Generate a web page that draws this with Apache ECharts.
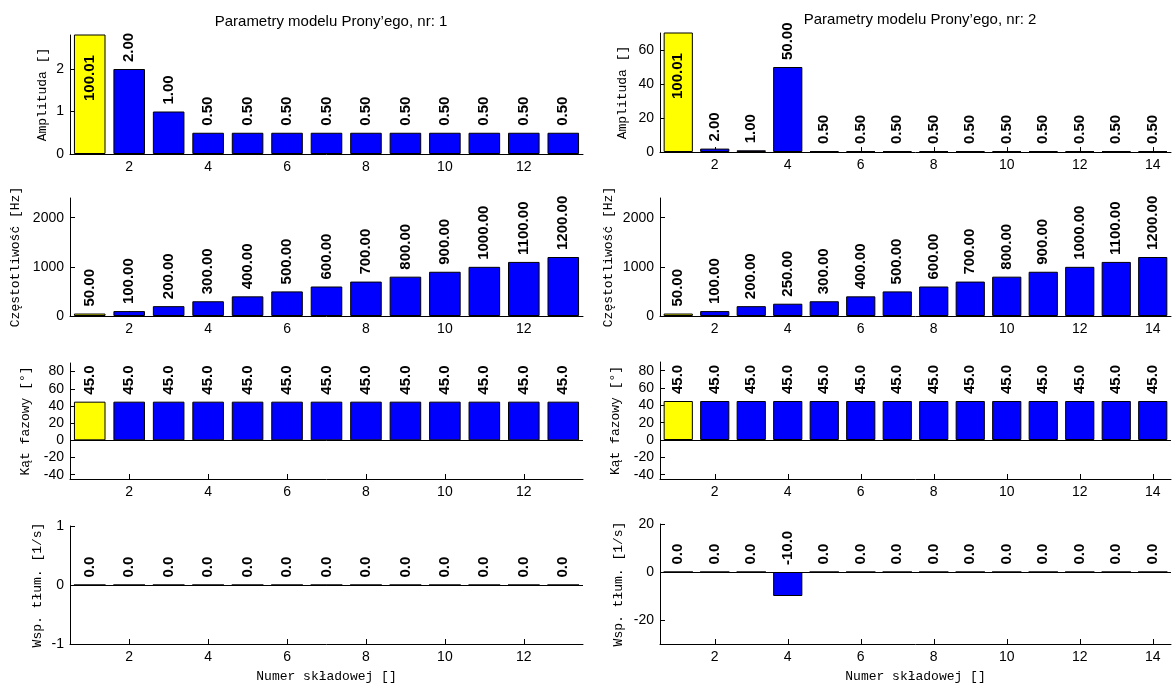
<!DOCTYPE html>
<html>
<head>
<meta charset="utf-8">
<script src="https://cdn.jsdelivr.net/npm/echarts@6/dist/echarts.min.js"></script>
<style>
html,body{margin:0;padding:0;background:#fff;}
#chart{width:1175px;height:687px;}
</style>
</head>
<body>
<div id="chart"></div>
<script>
// ---- data ----
const categoriesL = ['1','2','3','4','5','6','7','8','9','10','11','12','13'];
const categoriesR = ['1','2','3','4','5','6','7','8','9','10','11','12','13','14'];

const ampL   = [100.01, 2.00, 1.00, 0.50, 0.50, 0.50, 0.50, 0.50, 0.50, 0.50, 0.50, 0.50, 0.50];
const freqL  = [50, 100, 200, 300, 400, 500, 600, 700, 800, 900, 1000, 1100, 1200];
const phaseL = [45, 45, 45, 45, 45, 45, 45, 45, 45, 45, 45, 45, 45];
const dampL  = [0, 0, 0, 0, 0, 0, 0, 0, 0, 0, 0, 0, 0];

const ampR   = [100.01, 2.00, 1.00, 50.00, 0.50, 0.50, 0.50, 0.50, 0.50, 0.50, 0.50, 0.50, 0.50, 0.50];
const freqR  = [50, 100, 200, 250, 300, 400, 500, 600, 700, 800, 900, 1000, 1100, 1200];
const phaseR = [45, 45, 45, 45, 45, 45, 45, 45, 45, 45, 45, 45, 45, 45];
const dampR  = [0, 0, 0, -10, 0, 0, 0, 0, 0, 0, 0, 0, 0, 0];

const xTickLabels = ['2','4','6','8','10','12','14'];

const ampTicksL = [0, 1, 2];          const ampLimL = [0, 2.8];
const ampTicksR = [0, 20, 40, 60];    const ampLimR = [0, 70];
const freqTicks = [0, 1000, 2000];    const freqLim = [0, 2400];
const phaseTicks = [-40, -20, 0, 20, 40, 60, 80]; const phaseLim = [-45, 90];
const dampTicksL = [-1, 0, 1];        const dampLimL = [-1, 1];
const dampTicksR = [-20, 0, 20];      const dampLimR = [-30, 20];

const titles = ['Parametry modelu Prony\u2019ego, nr: 1', 'Parametry modelu Prony\u2019ego, nr: 2'];
const yNames = ['Amplituda []', 'Częstotliwość [Hz]', 'Kąt fazowy [°]', 'Wsp. tłum. [1/s]'];
const xName = 'Numer składowej []';

// ---- layout ----
const colL = {left: 70, width: 513};
const colR = {left: 660, width: 511};
const rowsL = [[35,154],[198,316],[363,479],[526,644]];
const rowsR = [[33,152],[198,316],[362,479],[524,644]];
const nameGapL = [21, 48, 38, 26];
const nameGapR = [31, 45, 38, 35];

const YELLOW = '#FFFF00', BLUE = '#0000FF';
const tickFont = {color:'#000', fontFamily:'Liberation Sans, Arial, sans-serif', fontSize:14};
const monoFont = {color:'#000', fontFamily:'Liberation Mono, DejaVu Sans Mono, monospace', fontSize:13};

const panels = [
  {col:'L', row:0, cats:categoriesL, vals:ampL,   lim:ampLimL,  ticks:ampTicksL,  dec:2, clipFirst:true},
  {col:'L', row:1, cats:categoriesL, vals:freqL,  lim:freqLim,  ticks:freqTicks,  dec:2},
  {col:'L', row:2, cats:categoriesL, vals:phaseL, lim:phaseLim, ticks:phaseTicks, dec:1, zero:true},
  {col:'L', row:3, cats:categoriesL, vals:dampL,  lim:dampLimL, ticks:dampTicksL, dec:1, zero:true},
  {col:'R', row:0, cats:categoriesR, vals:ampR,   lim:ampLimR,  ticks:ampTicksR,  dec:2, clipFirst:true},
  {col:'R', row:1, cats:categoriesR, vals:freqR,  lim:freqLim,  ticks:freqTicks,  dec:2},
  {col:'R', row:2, cats:categoriesR, vals:phaseR, lim:phaseLim, ticks:phaseTicks, dec:1, zero:true},
  {col:'R', row:3, cats:categoriesR, vals:dampR,  lim:dampLimR, ticks:dampTicksR, dec:1, zero:true}
];

const grid = [], xAxis = [], yAxis = [], series = [];
const evenCat = (idx, val) => xTickLabels.indexOf(String(val)) >= 0;

panels.forEach((p, i) => {
  const col = p.col === 'L' ? colL : colR;
  const r = (p.col === 'L' ? rowsL : rowsR)[p.row];
  const gap = (p.col === 'L' ? nameGapL : nameGapR)[p.row];
  grid.push({left: col.left, top: r[0], width: col.width, height: r[1]-r[0], containLabel:false, outerBoundsMode:'none'});
  xAxis.push({
    type:'category', gridIndex:i, data:p.cats, boundaryGap:true,
    axisLine:{show:true, onZero:false, lineStyle:{color:'#000', width:1}},
    axisTick:{show:true, inside:true, length:5, alignWithLabel:true, interval: evenCat, lineStyle:{color:'#000'}},
    axisLabel:Object.assign({interval: evenCat, margin:6}, tickFont),
    splitLine:{show:false},
    name: p.row === 3 ? xName : '', nameLocation:'middle', nameGap:26,
    nameTextStyle: monoFont
  });
  yAxis.push({
    type:'value', gridIndex:i, min:p.lim[0], max:p.lim[1],
    axisLine:{show:true, onZero:false, lineStyle:{color:'#000', width:1}},
    axisTick:{show:true, inside:true, length:5, customValues:p.ticks, lineStyle:{color:'#000'}},
    axisLabel:Object.assign({customValues:p.ticks, margin:6, formatter:(v) => String(v)}, tickFont),
    splitLine:{show:false},
    name: yNames[p.row], nameLocation:'middle', nameGap:gap, nameRotate:90,
    nameTextStyle: monoFont
  });
  const data = p.vals.map((v, k) => {
    if (p.clipFirst && k === 0) {
      return {value:v, label:{position:'insideBottom', distance:53}};
    }
    return v;
  });
  const s = {
    type:'bar', xAxisIndex:i, yAxisIndex:i, data:data, barWidth:'80%', clip:true,
    animation:false,
    itemStyle:{
      color: (pr) => pr.dataIndex === 0 ? YELLOW : BLUE,
      borderColor:'#000', borderWidth:1
    },
    label:{
      show:true, position:'top', distance:7, rotate:90, align:'left', verticalAlign:'middle',
      color:'#000', fontFamily:'Liberation Sans, Arial, sans-serif', fontWeight:'bold', fontSize:15,
      formatter:(pr) => Number(pr.value).toFixed(p.dec)
    }
  };
  if (p.zero) {
    s.markLine = {
      silent:true, symbol:'none', animation:false,
      label:{show:false},
      lineStyle:{color:'#000', width:1, type:'solid'},
      data:[{yAxis:0}]
    };
  }
  series.push(s);
});

const chart = echarts.init(document.getElementById('chart'), null, {renderer:'canvas'});
chart.setOption({
  animation:false,
  backgroundColor:'#fff',
  title:[
    {text:titles[0], left:326, top:9, textAlign:'center',
     textStyle:{color:'#000', fontFamily:'Liberation Sans, Arial, sans-serif', fontSize:15, fontWeight:'normal'}},
    {text:titles[1], left:915, top:7, textAlign:'center',
     textStyle:{color:'#000', fontFamily:'Liberation Sans, Arial, sans-serif', fontSize:15, fontWeight:'normal'}}
  ],
  grid, xAxis, yAxis, series
});
</script>
</body>
</html>
